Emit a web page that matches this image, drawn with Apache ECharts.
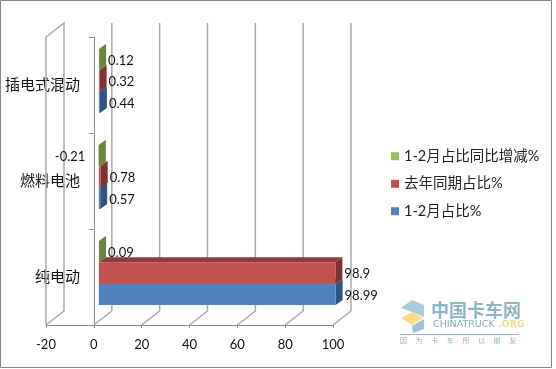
<!DOCTYPE html>
<html><head><meta charset="utf-8">
<style>html,body{margin:0;padding:0;background:#fff}#c{width:556px;height:369px}</style>
<script src="https://cdn.jsdelivr.net/npm/echarts@6/dist/echarts.min.js"></script>
</head><body><div id="c"></div>
<script>
const categories = ['纯电动', '燃料电池', '插电式混动'];
const seriesNames = ['1-2月占比%', '去年同期占比%', '1-2月占比同比增减%'];
const share = [98.99, 0.57, 0.44];
const lastYear = [98.9, 0.78, 0.32];
const change = [0.09, -0.21, 0.12];
const xTicks = [-20, 0, 20, 40, 60, 80, 100];

const FONT = 'Lato, "Noto Sans CJK SC", sans-serif';
const WALL = [18, -14], BASE = [5, -4], DEPTH = [7, -5];
const palette = [
  {front: '#4f81bd', top: '#3f6797', side: '#2e5482'},
  {front: '#c0504d', top: '#8e3a38', side: '#7c3230'},
  {front: '#9bbb59', top: '#7c9647', side: '#6b843d'}
];

function wallItem(params, api) {
  const c = params.coordSys, v = api.value(0);
  const x = api.coord([v, 0])[0], b = c.y + c.height, t = c.y;
  const pts = [[x, b], [x + WALL[0], b + WALL[1]], [x + WALL[0], t + WALL[1]]];
  if (v === xTicks[0]) pts.push([x, t], [x, b]);
  return {type: 'polyline', shape: {points: pts}, style: {stroke: '#a9a9a9', lineWidth: 1.5, fill: 'none'}};
}

function barItem(idx, values) {
  return function (params, api) {
    const cat = api.value(1), val = api.value(0);
    const zero = api.coord([0, cat]), end = api.coord([val, cat]);
    const band = api.size([0, 1])[1], h = band * 2 / 9;
    const yBottom = zero[1] + BASE[1] + h * 1.5 - idx * h, yTop = yBottom - h;
    const x0 = Math.min(zero[0], end[0]) + BASE[0], x1 = Math.max(zero[0], end[0]) + BASE[0];
    const p = palette[idx];
    const poly = (points, fill) => ({type: 'polygon', shape: {points}, style: {fill, stroke: null}});
    const neg = val < 0;
    return {type: 'group', children: [
      poly([[x0, yTop], [x0 + DEPTH[0], yTop + DEPTH[1]], [x1 + DEPTH[0], yTop + DEPTH[1]], [x1, yTop]], p.top),
      poly([[x1, yTop], [x1 + DEPTH[0], yTop + DEPTH[1]], [x1 + DEPTH[0], yBottom + DEPTH[1]], [x1, yBottom]], p.side),
      poly([[x0, yTop], [x1, yTop], [x1, yBottom], [x0, yBottom]], p.front),
      {type: 'text', z2: 10, style: {
        text: String(val), font: '13px ' + FONT, fill: '#111',
        x: neg ? x0 - 13 : x1 + DEPTH[0] + 2,
        y: (yTop + yBottom) / 2 + 1,
        align: neg ? 'right' : 'left', verticalAlign: 'middle'
      }}
    ]};
  };
}

const barSeries = [share, lastYear, change].map((vals, i) => ({
  name: seriesNames[i], type: 'custom', coordinateSystem: 'cartesian2d',
  renderItem: barItem(i, vals), itemStyle: {color: palette[i].front},
  encode: {x: 0, y: 1}, clip: false, z: 3 + i,
  data: vals.map((v, k) => [v, k])
}));

const wm = '#8fb4c6';
const chart = echarts.init(document.getElementById('c'), null, {renderer: 'canvas'});
chart.setOption({
  animation: false,
  backgroundColor: '#fff',
  grid: {left: 46, right: 223, top: 37, bottom: 44, containLabel: false, outerBoundsMode: 'none'},
  xAxis: {
    type: 'value', min: -20, max: 100, interval: 20,
    splitLine: {show: false},
    axisLine: {show: true, lineStyle: {color: '#8a8a8a', width: 1}},
    axisTick: {show: true, length: 3, lineStyle: {color: '#8a8a8a'}},
    axisLabel: {color: '#111', fontSize: 13, fontFamily: FONT, margin: 13}
  },
  yAxis: {
    type: 'category', data: categories,
    axisLine: {show: true, onZero: true, lineStyle: {color: '#8a8a8a', width: 1}},
    axisTick: {show: true, length: 5, lineStyle: {color: '#8a8a8a'}},
    axisLabel: {color: '#111', fontSize: 15, fontFamily: FONT, margin: -34},
    splitLine: {show: false}
  },
  legend: {
    orient: 'vertical', left: 391, top: 149,
    data: [seriesNames[2], seriesNames[1], seriesNames[0]],
    itemWidth: 8, itemHeight: 8, itemGap: 13, icon: 'rect',
    textStyle: {color: '#222', fontSize: 14.5, fontFamily: FONT, padding: 0},
    selectedMode: false, padding: 0
  },
  series: [
    {name: 'walls', type: 'custom', renderItem: wallItem, encode: {x: 0}, silent: true, clip: false, z: 1,
     data: xTicks.map(v => [v])},
    ...barSeries
  ],
  graphic: [
    {type: 'rect', silent: true, z: 0, shape: {x: 0.5, y: 0.5, width: 551, height: 367},
     style: {fill: 'none', stroke: '#868686', lineWidth: 1}},
    {type: 'group', silent: true, z: 20, children: [
      {type: 'polygon', shape: {points: [[401, 308], [412, 300], [424, 305], [424, 317], [412, 312]]}, style: {fill: '#a9cbdb'}},
      {type: 'polygon', shape: {points: [[401, 318], [412, 312], [423, 318], [412, 325]]}, style: {fill: '#f7dc84'}},
      {type: 'polygon', shape: {points: [[412, 326], [424, 319], [424, 329], [413, 333]]}, style: {fill: '#9dc2d4'}},
      {type: 'text', style: {text: '中国卡车网', x: 431, y: 301, font: 'bold 18px "Noto Sans CJK SC"', fill: wm, shadowColor: 'rgba(120,140,150,.45)', shadowBlur: 3, shadowOffsetX: 2, shadowOffsetY: 2}},
      {type: 'text', style: {text: 'CHINATRUCK', x: 433, y: 320, font: '9.5px "DejaVu Sans"', fill: '#7fa9be'}},
      {type: 'text', style: {text: '.ORG', x: 498, y: 320, font: 'bold 9.5px "DejaVu Sans"', fill: '#f3dc8e'}},
      {type: 'line', shape: {x1: 400, y1: 334.5, x2: 519, y2: 334.5}, style: {stroke: '#8fb9c4', lineWidth: 1}},
      ...['因', '为', '卡', '车', '所', '以', '朋', '友'].map((ch, i) => ({
        type: 'text', style: {text: ch, x: 400 + i * 15.6, y: 337, font: '7px "Noto Sans CJK SC"', fill: wm, shadowColor: 'rgba(120,140,150,.5)', shadowBlur: 2, shadowOffsetX: 1, shadowOffsetY: 1}
      }))
    ]}
  ]
});
</script></body></html>
